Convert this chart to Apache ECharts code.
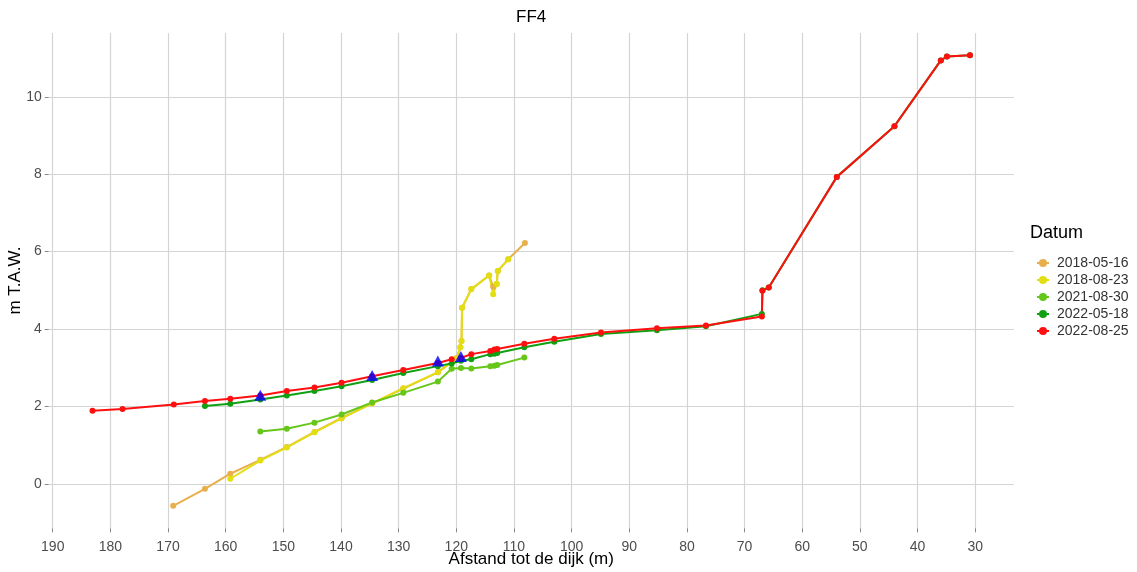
<!DOCTYPE html>
<html>
<head>
<meta charset="utf-8">
<script src="https://cdn.jsdelivr.net/npm/echarts@6/dist/echarts.min.js"></script>
<style>
html,body{margin:0;padding:0;background:#fff;}
#chart{width:1137px;height:572px;}
</style>
</head>
<body>
<div id="chart"></div>
<script>
// ---- data ----
const seriesNames = ['2018-05-16', '2018-08-23', '2021-08-30', '2022-05-18', '2022-08-25'];
const xTicks = [30, 40, 50, 60, 70, 80, 90, 100, 110, 120, 130, 140, 150, 160, 170, 180, 190];
const yTicks = [0, 2, 4, 6, 8, 10];

const x20180516 = [169.1, 163.6, 159.2, 154.0, 149.4, 144.6, 139.9, 134.6, 129.2, 123.2, 119.9, 119.3, 119.1, 119.0, 117.4, 114.3, 113.6, 113.0, 112.8, 111.0, 108.1];
const y20180516 = [-0.57, -0.13, 0.26, 0.62, 0.95, 1.34, 1.70, 2.08, 2.46, 2.88, 3.25, 3.53, 3.69, 4.55, 5.03, 5.38, 5.09, 5.16, 5.50, 5.80, 6.22];

const x20180823 = [159.2, 154.0, 149.4, 144.6, 139.9, 134.6, 129.2, 123.2, 119.9, 119.3, 119.1, 119.0, 117.4, 114.3, 113.6, 113.0, 112.8, 111.0];
const y20180823 = [0.13, 0.60, 0.94, 1.33, 1.69, 2.08, 2.47, 2.88, 3.25, 3.53, 3.69, 4.55, 5.03, 5.38, 4.90, 5.16, 5.50, 5.80];

const x20210830 = [154.0, 149.4, 144.6, 139.9, 134.6, 129.2, 123.2, 120.8, 119.2, 117.4, 114.1, 113.4, 112.9, 108.2];
const y20210830 = [1.35, 1.42, 1.58, 1.79, 2.10, 2.35, 2.64, 2.97, 2.99, 2.98, 3.04, 3.05, 3.07, 3.26];

const x20220518 = [163.6, 159.2, 154.0, 149.4, 144.6, 139.9, 134.6, 129.2, 123.2, 120.8, 119.2, 117.4, 114.1, 113.4, 112.9, 108.2, 103.0, 94.9, 85.2, 76.7, 67.0, 66.9, 65.8, 54.0, 44.0, 35.96, 34.9, 30.9];
const y20220518 = [2.01, 2.07, 2.18, 2.28, 2.40, 2.52, 2.68, 2.86, 3.04, 3.11, 3.18, 3.22, 3.35, 3.36, 3.38, 3.53, 3.67, 3.87, 3.97, 4.07, 4.39, 5.00, 5.07, 7.93, 9.24, 10.94, 11.04, 11.07];

const x20220825 = [183.1, 177.9, 169.0, 163.6, 159.2, 154.0, 149.4, 144.6, 139.9, 134.6, 129.2, 123.2, 120.8, 119.2, 117.4, 114.1, 113.4, 112.9, 108.2, 103.0, 94.9, 85.2, 76.7, 67.0, 66.9, 65.8, 54.0, 44.0, 35.96, 34.9, 30.9];
const y20220825 = [1.89, 1.93, 2.05, 2.14, 2.20, 2.28, 2.40, 2.49, 2.61, 2.78, 2.94, 3.12, 3.22, 3.25, 3.35, 3.43, 3.47, 3.48, 3.62, 3.75, 3.91, 4.02, 4.09, 4.32, 4.99, 5.07, 7.93, 9.24, 10.94, 11.04, 11.07];

const xMarkers = [154.0, 134.6, 123.2, 119.2];
const yMarkers = [2.29, 2.80, 3.17, 3.29];

const seriesColors = ['#E8B04D', '#E3DE12', '#66C619', '#11A011', '#FF1010'];
// ---- end data ----

const zip = (xs, ys) => xs.map((x, i) => [x, ys[i]]);
const allX = [x20180516, x20180823, x20210830, x20220518, x20220825];
const allY = [y20180516, y20180823, y20210830, y20220518, y20220825];

const FONT = 'Liberation Sans, Arial, sans-serif';
const chart = echarts.init(document.getElementById('chart'), null, {renderer: 'canvas'});

const lineSeries = seriesNames.map((name, i) => ({
  name: name,
  type: 'line',
  data: zip(allX[i], allY[i]),
  symbol: 'circle',
  symbolSize: 6,
  showSymbol: true,
  lineStyle: {width: 2, color: seriesColors[i]},
  itemStyle: {color: seriesColors[i]},
  emphasis: {disabled: true},
  animation: false,
  clip: false
}));

lineSeries.push({
  name: 'markers',
  type: 'scatter',
  data: zip(xMarkers, yMarkers),
  symbol: 'triangle',
  symbolSize: [12, 11],
  itemStyle: {color: '#0000FF'},
  animation: false,
  z: 5
});

chart.setOption({
  backgroundColor: '#ffffff',
  animation: false,
  textStyle: {fontFamily: FONT},
  grid: {left: 48.7, right: 123.2, top: 32.9, bottom: 43.7, containLabel: false, outerBoundsMode: 'none'},
  xAxis: {
    type: 'value',
    inverse: true,
    min: 23.3,
    max: 190.7,
    name: 'Afstand tot de dijk (m)',
    nameLocation: 'middle',
    nameGap: 23,
    nameMoveOverlap: false,
    nameTextStyle: {fontSize: 17, color: '#000', fontFamily: FONT, verticalAlign: 'top'},
    axisLine: {show: false, onZero: false},
    axisTick: {show: true, length: 4, lineStyle: {color: '#888'}, customValues: xTicks},
    axisLabel: {customValues: xTicks, color: '#4D4D4D', fontSize: 14, margin: 12, fontFamily: FONT},
    splitLine: {show: true, lineStyle: {color: '#d4d4d4', width: 1.2}}
  },
  yAxis: {
    type: 'value',
    min: -1.15,
    max: 11.65,
    name: 'm T.A.W.',
    nameLocation: 'middle',
    nameGap: 25,
    nameRotate: 90,
    nameMoveOverlap: false,
    nameTextStyle: {fontSize: 17, color: '#000', fontFamily: FONT},
    axisLine: {show: false, onZero: false},
    axisTick: {show: true, length: 4, lineStyle: {color: '#888'}, customValues: yTicks},
    axisLabel: {customValues: yTicks, color: '#4D4D4D', fontSize: 14, margin: 7, fontFamily: FONT},
    splitLine: {show: true, lineStyle: {color: '#d4d4d4', width: 1.2}}
  },
  legend: {
    data: seriesNames,
    orient: 'vertical',
    left: 1031,
    top: 251,
    itemWidth: 12,
    itemHeight: 10,
    itemGap: 3,
    textStyle: {fontSize: 14, color: '#333', fontFamily: FONT, padding: [0, 0, 0, 3]},
    selectedMode: false
  },
  graphic: [
    {type: 'text', left: 531 - 15, top: 9, style: {text: 'FF4', font: '17px ' + FONT, fill: '#000'}},
    {type: 'text', left: 1030, top: 224, style: {text: 'Datum', font: '18px ' + FONT, fill: '#000'}}
  ],
  series: lineSeries
});
</script>
</body>
</html>
